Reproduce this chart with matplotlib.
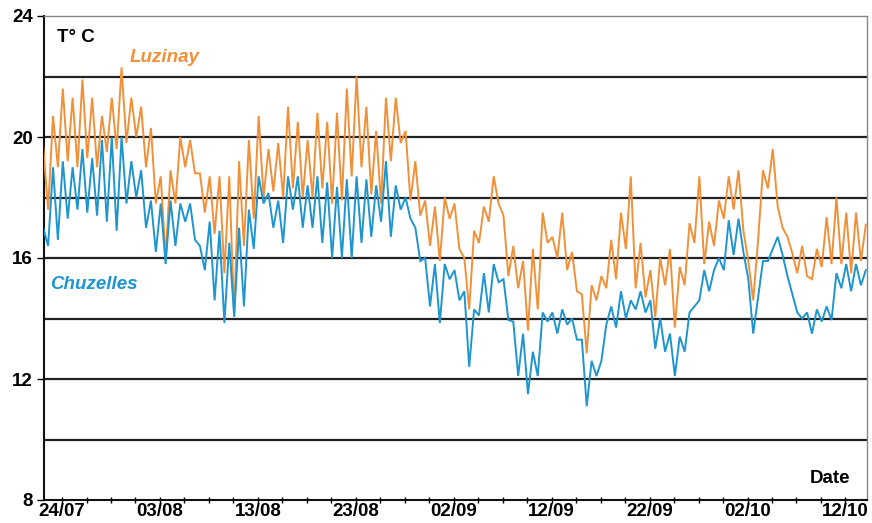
import numpy as np
import matplotlib
matplotlib.use("Agg")
import matplotlib.pyplot as plt

# Temperature records (°C), two readings per day starting 22/07,
# time axis in days counted from 24/07.
t_start = -1.92
step_days = 0.5

luzinay = [
    19.7, 17.6, 20.7, 19.0, 21.6, 19.2, 21.3, 19.0, 21.9, 19.3,
    21.3, 19.0, 20.7, 19.5, 21.3, 19.6, 22.3, 19.8, 21.3, 20.0,
    21.0, 19.0, 20.3, 17.8, 18.7, 16.0, 18.9, 17.8, 20.0, 19.0,
    19.9, 18.8, 18.8, 17.5, 18.7, 16.8, 18.7, 15.5, 18.7, 14.1,
    19.2, 16.4, 19.9, 17.3, 20.7, 18.0, 19.6, 18.2, 19.8, 18.0,
    21.0, 18.3, 20.5, 18.0, 19.9, 18.0, 20.8, 18.3, 20.5, 17.8,
    20.8, 17.9, 21.6, 18.7, 22.0, 19.0, 21.0, 18.1, 20.2, 17.8,
    21.3, 19.2, 21.3, 19.8, 20.2, 17.9, 19.2, 17.4, 17.9, 16.4,
    17.7, 15.9, 18.0, 17.3, 17.8, 16.3, 16.0, 14.3, 16.9, 16.5,
    17.7, 17.2, 18.7, 17.8, 17.4, 15.4, 16.4, 15.0, 15.9, 13.6,
    16.3, 14.3, 17.5, 16.5, 16.7, 16.0, 17.5, 15.6, 16.2, 14.9,
    14.8, 12.85, 15.1, 14.6, 15.4, 15.0, 16.6, 15.3, 17.5, 16.3,
    18.7, 15.0, 16.5, 14.7, 15.6, 14.05, 16.0, 15.1, 16.3, 13.7,
    15.7, 15.1, 17.15, 16.5, 18.7, 15.8, 17.2, 16.4, 17.9, 17.3,
    18.7, 17.6, 18.9, 16.9, 15.9, 14.6, 16.6, 18.9, 18.3, 19.6,
    17.7, 17.0, 16.7, 16.15, 15.5, 16.4, 15.4, 15.3, 16.3, 15.7,
    17.35, 15.8, 18.0, 15.8, 17.5, 15.5, 17.5, 15.9, 17.1,
]

chuzelles = [
    17.0, 16.4, 19.0, 16.6, 19.2, 17.3, 19.0, 17.6, 19.6, 17.5,
    19.3, 17.4, 19.9, 17.2, 20.0, 16.9, 20.0, 17.8, 19.2, 18.0,
    18.9, 17.0, 17.9, 16.2, 17.8, 15.8, 17.9, 16.4, 17.8, 17.2,
    17.8, 16.6, 16.4, 15.6, 17.2, 14.6, 16.9, 13.85, 16.5, 14.05,
    17.0, 14.4, 17.6, 16.3, 18.7, 17.8, 18.15, 17.0, 17.9, 16.5,
    18.7, 17.6, 18.7, 17.0, 18.4, 17.0, 18.7, 16.5, 18.5, 16.0,
    18.35, 16.0, 18.6, 16.0, 18.7, 16.5, 18.6, 16.7, 18.4, 17.2,
    19.2, 16.7, 18.4, 17.6, 18.0, 17.3, 17.0, 15.9, 16.0, 14.4,
    15.8, 13.85, 15.8, 15.3, 15.6, 14.6, 14.9, 12.4, 14.3, 14.1,
    15.5, 14.2, 15.8, 15.2, 15.3, 13.95, 13.9, 12.1, 13.5, 11.5,
    12.9, 12.1, 14.2, 13.9, 14.2, 13.5, 14.3, 13.8, 14.0, 13.3,
    13.3, 11.1, 12.6, 12.1, 12.6, 13.8, 14.4, 13.7, 14.9, 14.0,
    14.6, 14.3, 14.9, 14.2, 14.6, 13.0, 14.0, 12.9, 13.5, 12.1,
    13.4, 12.9, 14.2, 14.4, 14.6, 15.6, 14.9, 15.6, 16.0, 15.6,
    17.25, 16.1, 17.3, 16.2, 15.3, 13.5, 14.7, 15.9, 15.9, 16.3,
    16.7, 16.1, 15.4, 14.8, 14.2, 14.0, 14.2, 13.5, 14.3, 13.9,
    14.4, 13.95, 15.5, 15.0, 15.8, 14.9, 15.8, 15.1, 15.6,
]

tick_days = [0, 10, 20, 30, 40, 50, 60, 70, 80]
tick_labels = ["24/07", "03/08", "13/08", "23/08", "02/09",
               "12/09", "22/09", "02/10", "12/10"]
y_ticks = [8, 12, 16, 20, 24]
grid_levels = [10, 12, 14, 16, 18, 20, 22]

orange = "#F0913A"
blue = "#1F95CF"

plt.rcParams["font.family"] = ["Liberation Sans", "DejaVu Sans"]

fig = plt.figure(figsize=(8.72, 5.23), dpi=100)
ax = fig.add_axes([44 / 872, 1 - 500 / 523, (867 - 44) / 872, (500 - 16) / 523])

t_l = t_start + step_days * np.arange(len(luzinay))
t_c = t_start + step_days * np.arange(len(chuzelles))

for lvl in grid_levels:
    ax.axhline(lvl, color="#222222", lw=1.6, zorder=1)

ax.plot(t_l, luzinay, color=orange, lw=1.4, zorder=3, solid_joinstyle="miter")
ax.plot(t_c, chuzelles, color=blue, lw=1.4, zorder=4, solid_joinstyle="miter")

ax.set_xlim(-1.84, 82.2)
ax.set_ylim(8, 24)

fs = 13.5
ax.set_yticks(y_ticks)
ax.set_yticklabels([str(v) for v in y_ticks], fontsize=fs, fontweight="bold")
ax.set_xticks(tick_days)
ax.set_xticklabels(tick_labels, fontsize=fs, fontweight="bold")
ax.set_xticks(np.arange(0, 82.2, 2.5), minor=True)
ax.tick_params(axis="x", which="both", direction="inout", length=5, width=1, pad=0)
ax.tick_params(axis="y", which="major", direction="out", length=5, width=1, pad=3)

for side in ("left", "bottom"):
    ax.spines[side].set_color("#111111")
    ax.spines[side].set_linewidth(1.5)
for side in ("top", "right"):
    ax.spines[side].set_color("#888888")
    ax.spines[side].set_linewidth(1.0)

ax.text(0.016, 0.955, "T° C", transform=ax.transAxes, fontsize=fs,
        fontweight="bold", ha="left", va="center")
ax.text(0.104, 0.915, "Luzinay", transform=ax.transAxes, fontsize=fs,
        fontweight="bold", style="italic", color=orange, ha="left", va="center")
ax.text(0.007, 0.445, "Chuzelles", transform=ax.transAxes, fontsize=fs,
        fontweight="bold", style="italic", color=blue, ha="left", va="center")
ax.text(0.955, 0.045, "Date", transform=ax.transAxes, fontsize=fs,
        fontweight="bold", ha="center", va="center")

fig.savefig("out.png", dpi=100)
